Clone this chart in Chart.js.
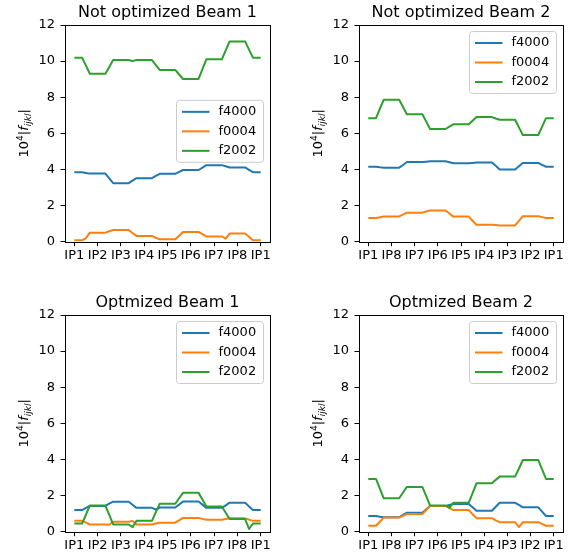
<!DOCTYPE html>
<html>
<head>
<meta charset="utf-8">
<script src="https://cdn.jsdelivr.net/npm/chart.js@4.4.0/dist/chart.umd.min.js"></script>
<style>
  body { margin: 0; background: #fff; width: 573px; height: 553px; overflow: hidden; position: relative; }
  canvas { position: absolute; }
</style>
</head>
<body>
<canvas id="nb1" width="280" height="263" style="left:0;top:0"></canvas>
<canvas id="nb2" width="279" height="263" style="left:294px;top:0"></canvas>
<canvas id="ob1" width="280" height="263" style="left:0;top:290px"></canvas>
<canvas id="ob2" width="279" height="263" style="left:294px;top:290px"></canvas>
<script>
const beam1Ticks = ['IP1', 'IP2', 'IP3', 'IP4', 'IP5', 'IP6', 'IP7', 'IP8', 'IP1'];
const beam2Ticks = ['IP1', 'IP8', 'IP7', 'IP6', 'IP5', 'IP4', 'IP3', 'IP2', 'IP1'];
const seriesNames = ['f4000', 'f0004', 'f2002'];
const seriesColors = ['#1f77b4', '#ff7f0e', '#2ca02c'];

// level held around each IP, and the value in the middle of each arc
const nb1F4000 = [3.85, 3.77, 3.24, 3.52, 3.76, 3.97, 4.24, 4.11, 3.85];
const nb1F4000Arc = [3.81, 3.5, 3.38, 3.64, 3.87, 4.1, 4.18, 3.98];
const nb1F0004 = [0.08, 0.5, 0.65, 0.32, 0.13, 0.54, 0.29, 0.45, 0.08];
const nb1F0004Arc = [0.2, 0.58, 0.48, 0.22, 0.33, 0.42, 0.17, 0.27];
const nb1F2002 = [10.19, 9.3, 10.06, 10.06, 9.51, 9.01, 10.1, 11.09, 10.19];
const nb1F2002Arc = [9.75, 9.68, 10.0, 9.78, 9.26, 9.55, 10.6, 10.64];

const nb2F4000 = [4.15, 4.1, 4.41, 4.45, 4.34, 4.38, 4.0, 4.36, 4.15];
const nb2F4000Arc = [4.12, 4.25, 4.43, 4.4, 4.36, 4.2, 4.18, 4.25];
const nb2F0004 = [1.31, 1.4, 1.61, 1.73, 1.39, 0.94, 0.9, 1.41, 1.31];
const nb2F0004Arc = [1.35, 1.5, 1.67, 1.56, 1.16, 0.92, 1.15, 1.36];
const nb2F2002 = [6.84, 7.86, 7.06, 6.24, 6.5, 6.9, 6.75, 5.91, 6.84];
const nb2F2002Arc = [7.35, 7.46, 6.65, 6.37, 6.7, 6.82, 6.33, 6.37];

const ob1F4000 = [1.2, 1.43, 1.66, 1.32, 1.34, 1.67, 1.32, 1.61, 1.2];
const ob1F4000Arc = [1.32, 1.55, 1.49, 1.22, 1.5, 1.5, 1.46, 1.4];
const ob1F0004 = [0.6, 0.4, 0.55, 0.4, 0.5, 0.76, 0.66, 0.74, 0.6];
const ob1F0004Arc = [0.5, 0.38, 0.6, 0.45, 0.63, 0.71, 0.7, 0.67];
const ob1F2002 = [0.45, 1.45, 0.4, 0.6, 1.55, 2.15, 1.4, 0.7, 0.45];
const ob1F2002Arc = [0.95, 0.93, 0.25, 1.08, 1.85, 1.78, 1.05, 0.15];

const ob2F4000 = [0.87, 0.8, 1.05, 1.43, 1.53, 1.16, 1.6, 1.35, 0.87];
const ob2F4000Arc = [0.83, 0.93, 1.24, 1.48, 1.35, 1.38, 1.48, 1.11];
const ob2F0004 = [0.33, 0.78, 0.98, 1.43, 1.2, 0.75, 0.53, 0.53, 0.33];
const ob2F0004Arc = [0.55, 0.88, 1.2, 1.32, 0.97, 0.63, 0.26, 0.43];
const ob2F2002 = [2.92, 1.85, 2.48, 1.45, 1.6, 2.68, 3.05, 3.97, 2.92];
const ob2F2002Arc = [2.38, 2.17, 1.97, 1.32, 2.14, 2.87, 3.5, 3.45];

Chart.defaults.font.family = 'DejaVu Sans';
Chart.defaults.font.size = 13;
Chart.defaults.color = '#000';

function buildPoints(levels, arcs) {
    let pts = [{ x: 0, y: levels[0] }];
    for (let k = 0; k < arcs.length; k++) {
        pts.push({ x: k + 1 / 3, y: levels[k] });
        pts.push({ x: k + 0.5, y: arcs[k] });
        pts.push({ x: k + 2 / 3, y: levels[k + 1] });
    }
    pts.push({ x: levels.length - 1, y: levels[levels.length - 1] });
    return pts;
}

// frame, title, y label and legend drawn the matplotlib way
const panelDecor = {
    id: 'panelDecor',
    afterDraw(chart, args, opts) {
        const ctx = chart.ctx;
        const a = chart.chartArea;
        ctx.save();

        ctx.strokeStyle = '#000';
        ctx.lineWidth = 1;
        ctx.strokeRect(Math.round(a.left) + 0.5, Math.round(a.top) + 0.5,
            Math.round(a.right - a.left), Math.round(a.bottom - a.top));

        // title centred over the axes
        ctx.fillStyle = '#000';
        ctx.font = '16px "DejaVu Sans"';
        ctx.textAlign = 'center';
        ctx.textBaseline = 'alphabetic';
        ctx.fillText(opts.title, (a.left + a.right) / 2, a.top - 8);

        // y label 10^4|f_ijkl|
        ctx.translate(23, (a.top + a.bottom) / 2);
        ctx.rotate(-Math.PI / 2);
        const parts = [
            { t: '10', f: '13px "DejaVu Sans"', dy: 0 },
            { t: '4', f: '9px "DejaVu Sans"', dy: -5 },
            { t: '|', f: '13px "DejaVu Sans"', dy: 0 },
            { t: 'f', f: 'italic 13px "DejaVu Sans"', dy: 0 },
            { t: 'ijkl', f: 'italic 9px "DejaVu Sans"', dy: 3 },
            { t: '|', f: '13px "DejaVu Sans"', dy: 0 }
        ];
        let total = 0;
        parts.forEach(p => { ctx.font = p.f; p.w = ctx.measureText(p.t).width; total += p.w; });
        let px = -total / 2;
        ctx.textAlign = 'left';
        parts.forEach(p => { ctx.font = p.f; ctx.fillText(p.t, px, 4.5 + p.dy); px += p.w; });
        ctx.restore();

        // legend box
        ctx.save();
        const w = 87, h = 62, rowH = 19.5;
        const x0 = a.right - 6.5 - w;
        const y0 = opts.legendMiddle ? (a.top + a.bottom - h) / 2 - 2 : a.top + 6.5;
        ctx.beginPath();
        ctx.roundRect(x0, y0, w, h, 3);
        ctx.fillStyle = 'rgba(255,255,255,0.8)';
        ctx.fill();
        ctx.strokeStyle = '#cccccc';
        ctx.lineWidth = 1;
        ctx.stroke();
        ctx.font = '13px "DejaVu Sans"';
        ctx.textBaseline = 'middle';
        chart.data.datasets.forEach((ds, i) => {
            const y = y0 + 11.5 + i * rowH;
            ctx.strokeStyle = ds.borderColor;
            ctx.lineWidth = 2;
            ctx.beginPath();
            ctx.moveTo(x0 + 5.5, y);
            ctx.lineTo(x0 + 33, y);
            ctx.stroke();
            ctx.fillStyle = '#000';
            ctx.fillText(ds.label, x0 + 42, y);
        });
        ctx.restore();
    }
};

function makePanel(id, title, ticks, series, legendMiddle) {
    return new Chart(document.getElementById(id), {
        type: 'line',
        data: {
            datasets: series.map((s, i) => ({
                label: seriesNames[i],
                data: buildPoints(s[0], s[1]),
                borderColor: seriesColors[i],
                backgroundColor: seriesColors[i],
                borderWidth: 2,
                pointRadius: 0,
                tension: 0,
                borderJoinStyle: 'round',
                order: 3 - i
            }))
        },
        options: {
            responsive: false,
            animation: false,
            layout: { padding: { left: 0, right: 10, top: 25, bottom: 0 } },
            plugins: {
                legend: { display: false },
                tooltip: { enabled: false },
                title: { display: false },
                panelDecor: { legendMiddle: legendMiddle, title: title }
            },
            scales: {
                x: {
                    type: 'linear',
                    min: -0.4,
                    max: 8.4,
                    afterBuildTicks: function (scale) {
                        scale.ticks = ticks.map((t, i) => ({ value: i }));
                    },
                    afterFit: function (scale) { scale.height = 21.3; },
                    ticks: {
                        padding: 1.5,
                        maxRotation: 0,
                        autoSkip: false,
                        callback: function (value) { return ticks[value]; }
                    },
                    grid: { drawOnChartArea: false, tickLength: 4.5, color: '#000' },
                    border: { display: false }
                },
                y: {
                    min: 0,
                    max: 12,
                    afterFit: function (scale) { scale.width = 65; },
                    ticks: { stepSize: 2, padding: 5.5 },
                    grid: { drawOnChartArea: false, tickLength: 4.5, color: '#000' },
                    border: { display: false }
                }
            }
        },
        plugins: [panelDecor]
    });
}

makePanel('nb1', 'Not optimized Beam 1', beam1Ticks, [
    [nb1F4000, nb1F4000Arc], [nb1F0004, nb1F0004Arc], [nb1F2002, nb1F2002Arc]
], true);
makePanel('nb2', 'Not optimized Beam 2', beam2Ticks, [
    [nb2F4000, nb2F4000Arc], [nb2F0004, nb2F0004Arc], [nb2F2002, nb2F2002Arc]
], false);
makePanel('ob1', 'Optmized Beam 1', beam1Ticks, [
    [ob1F4000, ob1F4000Arc], [ob1F0004, ob1F0004Arc], [ob1F2002, ob1F2002Arc]
], false);
makePanel('ob2', 'Optmized Beam 2', beam2Ticks, [
    [ob2F4000, ob2F4000Arc], [ob2F0004, ob2F0004Arc], [ob2F2002, ob2F2002Arc]
], false);
</script>
</body>
</html>
